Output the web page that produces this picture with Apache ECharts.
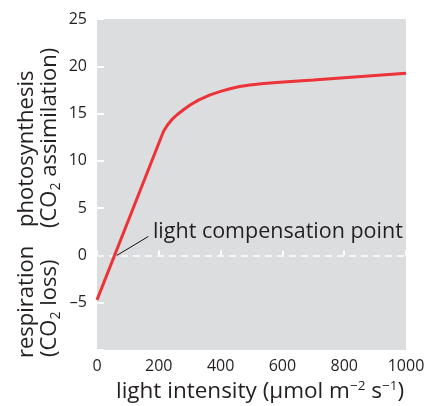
<!DOCTYPE html>
<html>
<head>
<meta charset="utf-8">
<script src="https://cdn.jsdelivr.net/npm/echarts@6/dist/echarts.min.js"></script>
<style>
html,body{margin:0;padding:0;background:#fff;}
#chart{width:433px;height:406px;}
</style>
</head>
<body>
<div id="chart"></div>
<script>
// Data
var lightIntensity = [0, 215, 228, 242, 260, 280, 301, 330, 366, 400, 430, 462, 495, 540, 592, 700, 800, 900, 1000];
var co2Rate = [-4.7, 13.1, 13.8, 14.35, 14.9, 15.4, 15.9, 16.45, 16.97, 17.35, 17.63, 17.86, 18.02, 18.17, 18.3, 18.55, 18.8, 19.03, 19.26];
var xTicks = [0, 200, 400, 600, 800, 1000];
var yTicks = [-10, -5, 0, 5, 10, 15, 20, 25];
var compensationPoint = [64, 0];
var leaderEnd = [166, 2];
var annotationAt = [181, 2.5];
var annotationText = 'light compensation point';

var FONT = 'Open Sans';
var TXT = '#231f20';

var chart = echarts.init(document.getElementById('chart'), null, {renderer: 'canvas'});
var curve = lightIntensity.map(function (x, i) { return [x, co2Rate[i]]; });

var option = {
  animation: false,
  backgroundColor: '#ffffff',
  grid: {
    left: 97, top: 19, right: 27, bottom: 56,
    outerBoundsMode: 'none',
    containLabel: false,
    show: true, backgroundColor: '#dcdddf', borderWidth: 0
  },
  xAxis: {
    type: 'value',
    min: xTicks[0], max: xTicks[xTicks.length - 1], interval: 200,
    axisLine: {show: false},
    axisTick: {show: true, inside: true, length: 5, lineStyle: {color: '#ffffff', width: 2}},
    splitLine: {show: false},
    axisLabel: {
      color: TXT, fontFamily: FONT, fontSize: 16, margin: 8,
      formatter: function (v) { return String(v); }
    },
    name: '{a|light intensity (\u03bcmol m}{s|\u22122}{a| s}{s|\u22121}{a|)}',
    nameLocation: 'middle',
    nameGap: 22,
    nameTextStyle: {
      padding: [0, 0, 0, 17],
      rich: {
        a: {fontFamily: FONT, fontSize: 22.5, color: TXT, lineHeight: 26},
        s: {fontFamily: FONT, fontSize: 13.5, color: TXT, verticalAlign: 'top', lineHeight: 26}
      }
    }
  },
  yAxis: {
    type: 'value',
    min: yTicks[0], max: yTicks[yTicks.length - 1], interval: 5,
    axisLine: {show: false},
    axisTick: {show: true, inside: true, length: 7, lineStyle: {color: '#ffffff', width: 2}},
    splitLine: {show: false},
    axisLabel: {
      color: TXT, fontFamily: FONT, fontSize: 16, margin: 10,
      formatter: function (v) {
        if (v === yTicks[0]) return '';
        return v < 0 ? '\u2013' + Math.abs(v) : String(v);
      }
    }
  },
  graphic: [
    {
      type: 'text', x: 27, y: 227, rotation: Math.PI / 2,
      style: {text: 'photosynthesis', fontFamily: FONT, fontSize: 22, fill: TXT, align: 'left', verticalAlign: 'middle'}
    },
    {
      type: 'text', x: 50, y: 228, rotation: Math.PI / 2,
      style: {
        text: '{a|(CO}{s|2}{a| assimilation)}', align: 'left', verticalAlign: 'middle',
        rich: {
          a: {fontFamily: FONT, fontSize: 22, fill: TXT, lineHeight: 26},
          s: {fontFamily: FONT, fontSize: 14, fill: TXT, verticalAlign: 'bottom', lineHeight: 26}
        }
      }
    },
    {
      type: 'text', x: 27, y: 358, rotation: Math.PI / 2,
      style: {text: 'respiration', fontFamily: FONT, fontSize: 22, fill: TXT, align: 'left', verticalAlign: 'middle'}
    },
    {
      type: 'text', x: 50, y: 357, rotation: Math.PI / 2,
      style: {
        text: '{a|(CO}{s|2}{a| loss)}', align: 'left', verticalAlign: 'middle',
        rich: {
          a: {fontFamily: FONT, fontSize: 22, fill: TXT, lineHeight: 26},
          s: {fontFamily: FONT, fontSize: 14, fill: TXT, verticalAlign: 'bottom', lineHeight: 26}
        }
      }
    }
  ],
  series: [
    {
      type: 'line',
      data: [],
      silent: true,
      markLine: {
        silent: true, symbol: 'none', animation: false,
        label: {show: false},
        data: [
          {yAxis: 0, lineStyle: {color: '#f6f6f6', width: 2, type: [7, 5]}},
          [
            {coord: compensationPoint, lineStyle: {color: '#111111', width: 1, type: 'solid'}},
            {coord: leaderEnd}
          ]
        ]
      },
      markPoint: {
        silent: true, symbol: 'circle', symbolSize: 0, animation: false,
        data: [{coord: annotationAt}],
        label: {
          show: true, position: 'right', distance: 0,
          formatter: annotationText,
          fontFamily: FONT, fontSize: 21.5, color: TXT
        }
      }
    },
    {
      type: 'line',
      data: curve,
      showSymbol: false,
      smooth: false,
      lineStyle: {color: '#ec3338', width: 3},
      z: 5
    }
  ]
};
chart.setOption(option);
</script>
</body>
</html>
